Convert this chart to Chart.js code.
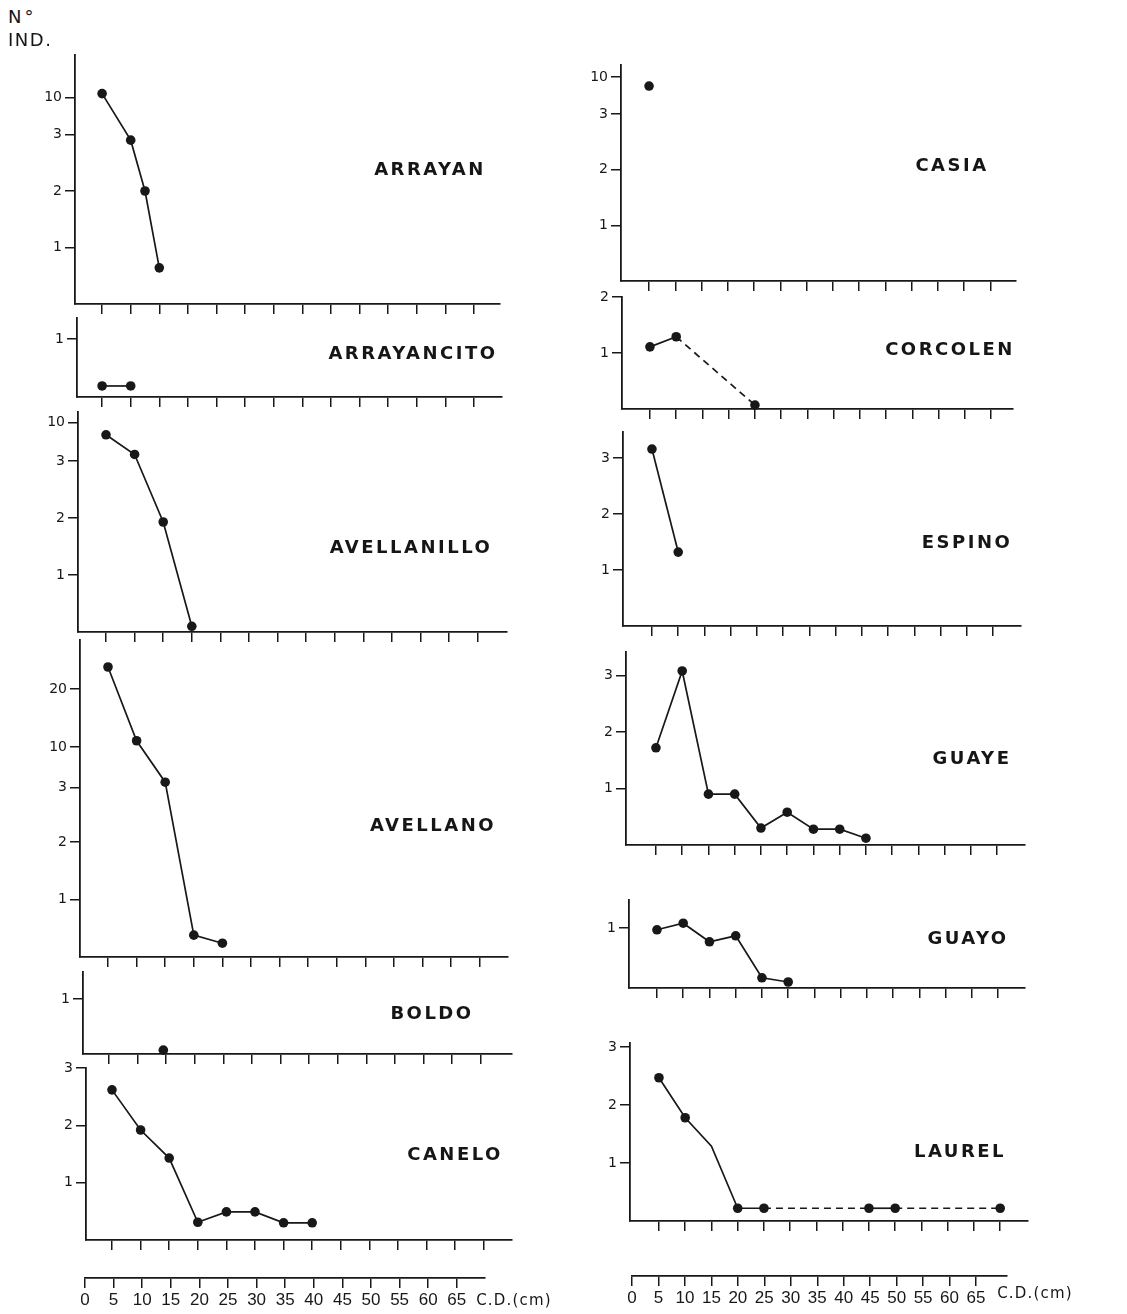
<!DOCTYPE html>
<html><head><meta charset="utf-8">
<script src="https://cdn.jsdelivr.net/npm/chart.js@4.4.1/dist/chart.umd.min.js"></script>
<style>
html,body{margin:0;padding:0;background:#fff;}
#wrap{position:relative;width:1127px;height:1314px;overflow:hidden;background:#fff;}
canvas{position:absolute;}
.lbl{position:absolute;font-family:"DejaVu Sans",sans-serif;font-weight:bold;font-size:18px;letter-spacing:2.5px;color:#161616;transform:translate(-50%,-50%);white-space:nowrap;}
.txt{position:absolute;font-family:"DejaVu Sans",sans-serif;font-size:16px;color:#161616;white-space:nowrap;line-height:1;}
</style></head><body><div id="wrap"></div>
<script>
// ---------- data (C.D. in cm, N° individuals) ----------
const cdTicks = [5,10,15,20,25,30,35,40,45,50,55,60,65,70];
const scaleTicks = [0,5,10,15,20,25,30,35,40,45,50,55,60,65];

const arrayanCD = [5, 10, 12.5, 15];
const arrayanN  = [10.8, 2.9, 2.0, 0.64];
const arrayancitoCD = [5, 10];
const arrayancitoN  = [0.19, 0.19];
const avellanilloCD = [5, 10, 15, 20];
const avellanilloN  = [7.8, 4.2, 1.93, 0.1];
const avellanoCD = [5, 10, 15, 20, 25];
const avellanoN  = [23.8, 11.1, 3.9, 0.38, 0.24];
const boldoCD = [14.5];
const boldoN  = [0.07];
const caneloCD = [5, 10, 15, 20, 25, 30, 35, 40];
const caneloN  = [2.62, 1.92, 1.43, 0.31, 0.49, 0.49, 0.30, 0.30];
const casiaCD = [5];
const casiaN  = [8.3];
const corcolenCD = [5, 10, 25];
const corcolenN  = [1.11, 1.29, 0.07];
const espinoCD = [5, 10];
const espinoN  = [3.16, 1.32];
const guayeCD = [5, 10, 15, 20, 25, 30, 35, 40, 45];
const guayeN  = [1.72, 3.08, 0.90, 0.90, 0.30, 0.58, 0.28, 0.28, 0.12];
const guayoCD = [5, 10, 15, 20, 25, 30];
const guayoN  = [0.97, 1.08, 0.77, 0.87, 0.17, 0.10];
const laurelCD = [5, 10, 15, 20, 25, 45, 50, 70];
const laurelN  = [2.47, 1.78, 1.29, 0.22, 0.22, 0.22, 0.22, 0.22];

// y tick values of each panel
const yTicksA = [1, 2, 3, 10];
const yTicks1 = [1];
const yTicks12 = [1, 2];
const yTicks123 = [1, 2, 3];
const yTicksAv = [1, 2, 3, 10, 20];

// ---------- layout (axis geometry of the reproduced figure) ----------
const INK = '#181818';
const panels = [
 {name:'ARRAYAN', cd:arrayanCD, n:arrayanN, tv:yTicksA, tp:[1,2,3,3.65], L:75,T:55,B:304,R:500,unit:56.5,x0:73.5,ppc:5.72,lx:430,ly:168},
 {name:'ARRAYANCITO', cd:arrayancitoCD, n:arrayancitoN, tv:yTicks1, tp:[1], L:77,T:318,B:397,R:502,unit:58,x0:73.5,ppc:5.72,lx:413,ly:352},
 {name:'AVELLANILLO', cd:avellanilloCD, n:avellanilloN, tv:yTicksA, tp:[1,2,3,3.67], L:78,T:412,B:632,R:507,unit:57,x0:77.4,ppc:5.72,lx:411,ly:546},
 {name:'AVELLANO', cd:avellanoCD, n:avellanoN, tv:yTicksAv, tp:[1,2,2.95,3.65,4.66], L:80,T:640,B:957,R:508,unit:57.5,x0:79.4,ppc:5.72,lx:433,ly:824},
 {name:'BOLDO', cd:boldoCD, n:boldoN, tv:yTicks1, tp:[1], L:83,T:972,B:1054,R:512,unit:55,x0:80.4,ppc:5.72,lx:432,ly:1012},
 {name:'CANELO', cd:caneloCD, n:caneloN, tv:yTicks123, tp:[1,2,3], L:86,T:1068,B:1240,R:512,unit:57.3,x0:83.4,ppc:5.72,lx:455,ly:1153},
 {name:'CASIA', cd:casiaCD, n:casiaN, tv:yTicksA, tp:[1,2,3,3.66], L:621,T:65,B:281,R:1016,unit:55.7,x0:622.8,ppc:5.25,lx:952,ly:164},
 {name:'CORCOLEN', cd:corcolenCD, n:corcolenN, tv:yTicks12, tp:[1,2], L:622,T:297,B:409,R:1013,unit:56,x0:623.7,ppc:5.25,lx:950,ly:348,dash:[1]},
 {name:'ESPINO', cd:espinoCD, n:espinoN, tv:yTicks123, tp:[1,2,3], L:623,T:432,B:626,R:1021,unit:56,x0:625.7,ppc:5.25,lx:967,ly:541},
 {name:'GUAYE', cd:guayeCD, n:guayeN, tv:yTicks123, tp:[1,2,3], L:626,T:652,B:845,R:1025,unit:56.5,x0:629.7,ppc:5.25,lx:972,ly:757},
 {name:'GUAYO', cd:guayoCD, n:guayoN, tv:yTicks1, tp:[1], L:629,T:900,B:988,R:1025,unit:60,x0:630.7,ppc:5.25,lx:968,ly:937},
 {name:'LAUREL', cd:laurelCD, n:laurelN, tv:yTicks123, tp:[1,2,3], L:630,T:1043,B:1221,R:1028,unit:58,x0:632.7,ppc:5.25,lx:960,ly:1150,dash:[4,6],noMark:[2]}
];
const scales = [
 {L:85,R:485,y:1277,ppc:5.72,cdx:514,cdy:1300},
 {L:631.5,R:1007,y:1275,ppc:5.3,cdx:1035,cdy:1293}
];

const wrap = document.getElementById('wrap');
const FONT = '"DejaVu Sans", sans-serif';

function toPos(v, vals, pos){
  const V=[0].concat(vals), P=[0].concat(pos);
  for(let i=1;i<V.length;i++){
    if(v<=V[i]) return P[i-1]+(v-V[i-1])/(V[i]-V[i-1])*(P[i]-P[i-1]);
  }
  const n=V.length-1;
  return P[n]+(v-V[n])/(V[n]-V[n-1])*(P[n]-P[n-1]);
}

function addCanvas(x,y,w,h){
  const c=document.createElement('canvas');
  c.width=w;c.height=h;
  c.style.left=x+'px';c.style.top=y+'px';c.style.width=w+'px';c.style.height=h+'px';
  wrap.appendChild(c);
  return c;
}
function addText(cls,txt,x,y,extra){
  const d=document.createElement('div');
  d.className=cls;d.textContent=txt;
  d.style.left=x+'px';d.style.top=y+'px';
  if(extra) Object.assign(d.style,extra);
  wrap.appendChild(d);
}

const padL=52,padT=12,padR=10,padB=16;
panels.forEach(p=>{
  const W=p.R-p.L+padL+padR, H=p.B-p.T+padT+padB;
  const c=addCanvas(p.L-padL,p.T-padT,W,H);
  const pts=p.cd.map((x,i)=>({x:x,y:toPos(p.n[i],p.tv,p.tp)}));
  const dash=p.dash||[], noMark=p.noMark||[];
  new Chart(c,{
    type:'line',
    data:{datasets:[{
      data:pts,borderColor:INK,borderWidth:1.7,tension:0,clip:false,
      pointRadius:pts.map((_,i)=>noMark.includes(i)?0:4.8),
      pointBackgroundColor:INK,pointBorderWidth:0,
      segment:{borderDash:ctx=>dash.includes(ctx.p0DataIndex)?[7,5]:undefined}
    }]},
    options:{
      responsive:false,animation:false,events:[],
      layout:{padding:{top:padT,right:padR,left:0,bottom:0}},
      plugins:{legend:{display:false},tooltip:{enabled:false},title:{display:false}},
      scales:{
        x:{type:'linear',min:(p.L-p.x0)/p.ppc,max:(p.R-p.x0)/p.ppc,
           afterBuildTicks:s=>{s.ticks=cdTicks.map(v=>({value:v}));},
           afterFit:s=>{s.height=padB;},
           ticks:{display:false},
           grid:{drawOnChartArea:false,drawTicks:true,tickLength:10,color:INK,lineWidth:1.5},
           border:{display:true,color:INK,width:1.8}},
        y:{type:'linear',min:0,max:(p.B-p.T)/p.unit,
           afterBuildTicks:s=>{s.ticks=p.tp.map(v=>({value:v}));},
           afterFit:s=>{s.width=padL;},
           ticks:{callback:(v,i)=>String(p.tv[i]),color:INK,font:{family:FONT,size:14},padding:3},
           grid:{drawOnChartArea:false,drawTicks:true,tickLength:10,color:INK,lineWidth:1.5},
           border:{display:true,color:INK,width:1.8}}
      }
    }
  });
  addText('lbl',p.name,p.lx,p.ly);
});

scales.forEach(s=>{
  const pl=20, pr=30, top=8, H=44;
  const W=s.R-s.L+pl+pr;
  const c=addCanvas(s.L-pl,s.y-top,W,H);
  new Chart(c,{
    type:'line',data:{datasets:[]},
    options:{
      responsive:false,animation:false,events:[],
      layout:{padding:{top:top,left:pl,right:pr,bottom:0}},
      plugins:{legend:{display:false},tooltip:{enabled:false}},
      scales:{
        x:{type:'linear',min:0,max:(s.R-s.L)/s.ppc,
           afterBuildTicks:a=>{a.ticks=scaleTicks.map(v=>({value:v}));},
           afterFit:a=>{a.height=H-top-1;},
           ticks:{autoSkip:false,maxRotation:0,color:INK,font:{family:'"Liberation Sans", sans-serif',size:17},padding:2,callback:v=>String(v)},
           grid:{drawOnChartArea:false,drawTicks:true,tickLength:10,color:INK,lineWidth:1.5},
           border:{display:true,color:INK,width:1.8}},
        y:{display:false,min:0,max:1}
      }
    }
  });
  addText('txt','C.D.(cm)',s.cdx,s.cdy,{transform:'translate(-50%,-50%)',fontSize:'15px',letterSpacing:'1.2px'});
});

addText('txt','N°',8,8,{fontSize:'18px',letterSpacing:'3px'});
addText('txt','IND.',8,31,{fontSize:'18px',letterSpacing:'1.5px'});
</script>
</body></html>
